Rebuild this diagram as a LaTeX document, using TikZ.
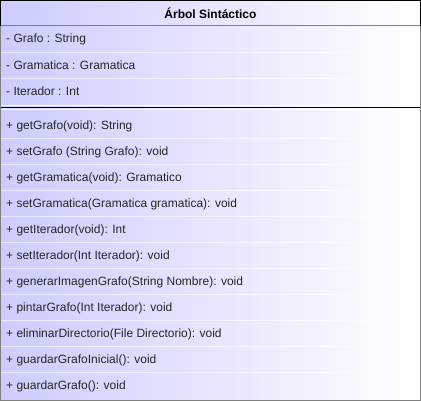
\documentclass[tikz,border=0pt]{standalone}
\usepackage{fontspec}
\setmainfont{Liberation Sans}
\definecolor{lav}{RGB}{204,204,255}
\definecolor{bordergray}{RGB}{128,128,128}
\begin{document}
\begin{tikzpicture}[x=1pt,y=-1pt,
  row/.style={anchor=west,inner sep=0pt,font=\fontsize{12}{14}\selectfont,text=black!85},
  title/.style={inner sep=0pt,font=\fontsize{12}{14}\selectfont\bfseries},
  rowsep/.style={white,opacity=0.6,line width=0.8pt}]
\useasboundingbox (0,0) rectangle (421,402);
% body fill
\shade[left color=lav,right color=white] (0.5,0.5) rectangle (420.5,400.5);
% row separators
\foreach \yy in {52,78,138,164,190,216,242,268,294,320,346,372}{
  \draw[rowsep] (1,\yy) -- (420,\yy);
}
% compartment separator
\draw[white,line width=0.8pt] (1,105.6) -- (420,105.6);
\draw[white,line width=0.8pt] (1,109.4) -- (420,109.4);
\draw[black,line width=1pt] (0,107.5) -- (421,107.5);
% borders
\draw[bordergray,line width=1pt] (0.5,25.5) -- (0.5,400.5) -- (420.5,400.5) -- (420.5,25.5);
\draw[bordergray,line width=1pt] (0.5,25.5) -- (420.5,25.5);
\draw[black,line width=1pt] (0.5,25.5) -- (0.5,0.5) -- (420.5,0.5) -- (420.5,25.5);
% title
\node[title] (t) at (210.5,13.5) {Árbol Sintáctico};
% attributes
\node[row] (a1) at (6,39.5) {- Grafo : String};
\node[row] (a2) at (6,65.5) {- Gramatica : Gramatica};
\node[row] (a3) at (6,91.5) {- Iterador : Int};
% methods
\node[row] (m1) at (6,126) {+ getGrafo(void): String};
\node[row] (m2) at (6,152) {+ setGrafo (String Grafo): void};
\node[row] (m3) at (6,178) {+ getGramatica(void): Gramatico};
\node[row] (m4) at (6,204) {+ setGramatica(Gramatica gramatica): void};
\node[row] (m5) at (6,230) {+ getIterador(void): Int};
\node[row] (m6) at (6,256) {+ setIterador(Int Iterador): void};
\node[row] (m7) at (6,282) {+ generarImagenGrafo(String Nombre): void};
\node[row] (m8) at (6,308) {+ pintarGrafo(Int Iterador): void};
\node[row] (m9) at (6,334) {+ eliminarDirectorio(File Directorio): void};
\node[row] (m10) at (6,360) {+ guardarGrafoInicial(): void};
\node[row] (m11) at (6,386) {+ guardarGrafo(): void};
\end{tikzpicture}
\end{document}
